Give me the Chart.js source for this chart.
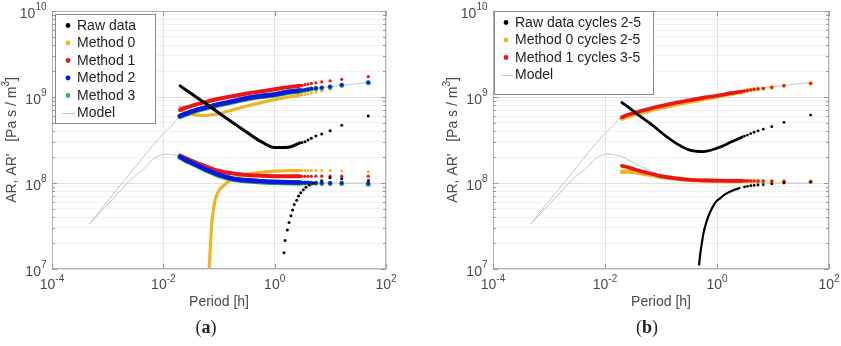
<!DOCTYPE html>
<html><head><meta charset="utf-8">
<script src="https://cdn.jsdelivr.net/npm/chart.js@4.4.1/dist/chart.umd.min.js"></script>
<style>
html,body{margin:0;padding:0;background:#fff;width:841px;height:346px;overflow:hidden}
#wa{position:absolute;left:0;top:0;width:420px;height:346px}
#wb{position:absolute;left:420px;top:0;width:421px;height:346px}
.cap{position:absolute;top:317px;font-family:"Liberation Serif","Times New Roman",serif;font-size:18px;line-height:20px;color:#222;width:60px;text-align:center}
</style></head><body>
<div id="wa"><canvas id="ca" width="420" height="346"></canvas></div>
<div id="wb"><canvas id="cb" width="421" height="346"></canvas></div>
<div class="cap" style="left:176px">(<b>a</b>)</div>
<div class="cap" style="left:617px">(<b>b</b>)</div>
<script>
// ---------- axis ticks ----------
const xTickValues = [1e-4, 1e-2, 1, 1e2];
const xTickExps = ['-4', '-2', '0', '2'];
const yTickValues = [1e7, 1e8, 1e9, 1e10];
const yTickExps = ['7', '8', '9', '10'];
const yMinorValues = [2e7,3e7,4e7,5e7,6e7,7e7,8e7,9e7,2e8,3e8,4e8,5e8,6e8,7e8,8e8,9e8,2e9,3e9,4e9,5e9,6e9,7e9,8e9,9e9];

// ---------- periods [h] ----------
const periodDense = [0.02, 0.0251, 0.0316, 0.0398, 0.0562, 0.0794, 0.1, 0.178, 0.316, 0.562, 1.0, 1.78, 2.82];
const periodSparseA = [3.09, 3.51, 3.98, 4.57, 5.5, 7.0, 9.91, 16.0, 48.0];
const periodSparseB = [3.1, 3.5, 4.0, 4.6, 5.4, 6.7, 9.5, 15.7, 47.0];

// ---------- model ----------
const modelPeriod = [4.8e-4, 1e-3, 2e-3, 2.5e-3, 4e-3, 5e-3, 6.3e-3, 0.01, 0.0141, 0.02, 0.0316, 0.0562, 0.1, 0.316, 1, 3.16, 10, 48];
const modelUpper = [3.39e7, 6.17e7, 1.072e8, 1.288e8, 1.862e8, 2.239e8, 2.692e8, 3.758e8, 4.677e8, 5.888e8, 6.761e8, 7.499e8, 8.222e8, 9.661e8, 1.072e9, 1.202e9, 1.318e9, 1.479e9];
const modelLower = [3.39e7, 5.62e7, 9.12e7, 1.072e8, 1.380e8, 1.567e8, 1.862e8, 2.163e8, 2.138e8, 2.018e8, 1.738e8, 1.445e8, 1.245e8, 1.072e8, 1.028e8, 1.009e8, 1.0e8, 1.0e8];

// ---------- panel (a) ----------
const aRawUpDense = [1.349e9, 1.216e9, 1.096e9, 9.89e8, 8.51e8, 7.24e8, 6.53e8, 5.01e8, 3.89e8, 3.05e8, 2.58e8, 2.60e8, 2.92e8];
const aRawUpSparse = [2.95e8, 3.02e8, 3.16e8, 3.31e8, 3.51e8, 3.72e8, 4.06e8, 4.69e8, 6.01e8];
const aRawLowPeriod = [1.47, 1.54, 1.69, 1.81, 1.96, 2.10, 2.25, 2.49, 2.69, 2.94, 3.27, 3.65, 4.19, 4.94, 7.0, 9.86, 16.0, 48.3];
const aRawLow = [1.55e7, 2.14e7, 2.84e7, 3.47e7, 4.17e7, 4.85e7, 5.62e7, 6.31e7, 7.06e7, 7.71e7, 8.32e7, 8.91e7, 9.48e7, 9.91e7, 1.06e8, 1.15e8, 1.12e8, 1.07e8];

const aM0UpDense = [7.59e8, 6.53e8, 6.31e8, 6.17e8, 6.12e8, 6.24e8, 6.38e8, 7.08e8, 7.85e8, 8.61e8, 9.33e8, 1.0e9, 1.047e9];
const aM0UpSparse = [1.059e9, 1.072e9, 1.091e9, 1.109e9, 1.135e9, 1.175e9, 1.230e9, 1.334e9, 1.462e9];
const aM0LowPeriod = [0.0653, 0.0692, 0.0741, 0.0794, 0.0851, 0.0955, 0.1047, 0.126, 0.158, 0.2, 0.316, 0.562, 1.0, 1.78, 2.82];
const aM0Low = [7.94e6, 1.585e7, 3.39e7, 4.79e7, 6.31e7, 7.76e7, 8.51e7, 9.55e7, 1.072e8, 1.148e8, 1.259e8, 1.334e8, 1.374e8, 1.39e8, 1.396e8];
const aM0LowSparse = [1.396e8, 1.396e8, 1.398e8, 1.398e8, 1.4e8, 1.4e8, 1.4e8, 1.38e8, 1.35e8];

const aM1UpDense = [7.08e8, 7.50e8, 7.85e8, 8.22e8, 8.71e8, 9.23e8, 9.55e8, 1.023e9, 1.096e9, 1.161e9, 1.230e9, 1.303e9, 1.349e9];
const aM1UpSparse = [1.365e9, 1.390e9, 1.413e9, 1.439e9, 1.462e9, 1.496e9, 1.542e9, 1.607e9, 1.722e9];
const aM1LowDense = [2.09e8, 1.95e8, 1.82e8, 1.72e8, 1.57e8, 1.445e8, 1.38e8, 1.29e8, 1.239e8, 1.216e8, 1.202e8, 1.197e8, 1.197e8];
const aM1LowSparse = [1.197e8, 1.197e8, 1.197e8, 1.197e8, 1.2e8, 1.2e8, 1.2e8, 1.2e8, 1.2e8];

const aM2UpDense = [6.03e8, 6.38e8, 6.76e8, 7.08e8, 7.50e8, 7.94e8, 8.22e8, 8.91e8, 9.66e8, 1.023e9, 1.072e9, 1.148e9, 1.189e9];
const aM2UpSparse = [1.197e9, 1.211e9, 1.230e9, 1.250e9, 1.268e9, 1.288e9, 1.318e9, 1.380e9, 1.479e9];
const aM2LowDense = [2.02e8, 1.86e8, 1.74e8, 1.62e8, 1.45e8, 1.32e8, 1.245e8, 1.122e8, 1.072e8, 1.047e8, 1.028e8, 1.019e8, 1.012e8];
const aM2LowSparse = [1.009e8, 1.007e8, 1.007e8, 1.005e8, 1.005e8, 1.0e8, 1.0e8, 1.0e8, 0.989e8];

const aM3UpDense = [5.95e8, 6.30e8, 6.68e8, 7.00e8, 7.42e8, 7.85e8, 8.12e8, 8.80e8, 9.55e8, 1.012e9, 1.060e9, 1.136e9, 1.177e9];
const aM3UpSparse = [1.185e9, 1.199e9, 1.218e9, 1.238e9, 1.255e9, 1.275e9, 1.305e9, 1.366e9, 1.464e9];
const aM3LowDense = [2.00e8, 1.84e8, 1.72e8, 1.60e8, 1.435e8, 1.305e8, 1.23e8, 1.11e8, 1.062e8, 1.037e8, 1.018e8, 1.01e8, 1.003e8];
const aM3LowSparse = [0.999e8, 0.997e8, 0.997e8, 0.995e8, 0.995e8, 0.99e8, 0.99e8, 0.99e8, 0.97e8];

// ---------- panel (b) ----------
const bRawUpDense = [8.61e8, 7.76e8, 6.92e8, 6.17e8, 5.25e8, 4.42e8, 3.89e8, 2.95e8, 2.43e8, 2.32e8, 2.54e8, 2.99e8, 3.43e8];
const bRawUpSparse = [3.51e8, 3.61e8, 3.76e8, 3.89e8, 4.03e8, 4.22e8, 4.52e8, 5.07e8, 6.17e8];
const bRawLowPeriod = [0.479, 0.501, 0.533, 0.575, 0.617, 0.708, 0.804, 0.955, 1.132, 1.413, 1.95, 2.512];
const bRawLow = [1.122e7, 1.479e7, 1.950e7, 2.630e7, 3.162e7, 4.169e7, 5.012e7, 6.026e7, 6.637e7, 7.413e7, 8.222e7, 8.710e7];
const bRawLowSparse = [9.02e7, 9.16e7, 9.29e7, 9.40e7, 9.48e7, 9.55e7, 9.77e7, 1.0e8, 1.023e8];

const bM0UpDense = [5.62e8, 5.92e8, 6.19e8, 6.49e8, 6.87e8, 7.28e8, 7.53e8, 8.17e8, 8.81e8, 9.48e8, 1.012e9, 1.089e9, 1.148e9];
const bM0UpSparse = [1.169e9, 1.188e9, 1.205e9, 1.224e9, 1.239e9, 1.253e9, 1.291e9, 1.348e9, 1.438e9];
const bM0LowDense = [1.349e8, 1.365e8, 1.349e8, 1.318e8, 1.259e8, 1.216e8, 1.180e8, 1.127e8, 1.089e8, 1.072e8, 1.062e8, 1.057e8, 1.057e8];
const bM0LowSparse = [1.055e8, 1.055e8, 1.053e8, 1.053e8, 1.05e8, 1.05e8, 1.048e8, 1.045e8, 1.04e8];

const bM1UpDense = [5.82e8, 6.17e8, 6.46e8, 6.76e8, 7.16e8, 7.59e8, 7.85e8, 8.51e8, 9.12e8, 9.77e8, 1.035e9, 1.109e9, 1.161e9];
const bM1UpSparse = [1.175e9, 1.194e9, 1.211e9, 1.230e9, 1.245e9, 1.259e9, 1.297e9, 1.355e9, 1.445e9];
const bM1LowDense = [1.585e8, 1.531e8, 1.462e8, 1.396e8, 1.318e8, 1.245e8, 1.202e8, 1.135e8, 1.091e8, 1.072e8, 1.064e8, 1.059e8, 1.059e8];
const bM1LowSparse = [1.057e8, 1.057e8, 1.055e8, 1.055e8, 1.053e8, 1.053e8, 1.05e8, 1.045e8, 1.04e8];

// ---------- legends ----------
const legendLabelsA = ['Raw data', 'Method 0', 'Method 1', 'Method 2', 'Method 3', 'Model'];
const legendLabelsB = ['Raw data cycles 2-5', 'Method 0 cycles 2-5', 'Method 1 cycles 3-5', 'Model'];

// ---------- styling ----------
const COL = {raw:'#000000', m0:'#EDB523', m1:'#E8161B', m2:'#0A17E0', m3:'#2DB84B', model:'#c4c4c4'};
const FONT = "'Liberation Sans', Arial, Helvetica, sans-serif";

function P(xs, ys){ return xs.map((x,i)=>({x:x, y:ys[i]})); }
function lineDs(xs, ys, color, w, order, tension){
  const d = {data:P(xs,ys), showLine:true, borderColor:color, backgroundColor:color, borderWidth:w,
    pointRadius:0, borderCapStyle:'round', borderJoinStyle:'round', order:order, clip:0};
  if (tension !== undefined) { d.tension = tension; } else { d.cubicInterpolationMode = 'monotone'; }
  return d;
}
function dotDs(xs, ys, color, r, order){
  return {data:P(xs,ys), showLine:false, pointRadius:r, pointBackgroundColor:color, pointBorderWidth:0,
    backgroundColor:color, borderColor:color, order:order, clip:0};
}

function supText(ctx, base, exp, x, y, align, bf, ef, dyB, dyE){
  ctx.font = bf; const wb = ctx.measureText(base).width;
  ctx.font = ef; const we = ctx.measureText(exp).width;
  let x0 = align==='center' ? x-(wb+we)/2 : (align==='right' ? x-(wb+we) : x);
  ctx.textAlign='left'; ctx.textBaseline='middle';
  ctx.font = bf; ctx.fillText(base, x0, y+dyB);
  ctx.font = ef; ctx.fillText(exp, x0+wb, y+dyE);
}

const decoPlugin = {
  id:'deco',
  afterDraw(chart){
    const cfg = chart.options.plugins.deco;
    const ctx = chart.ctx, ca = chart.chartArea, xs = chart.scales.x, ys = chart.scales.y;
    ctx.save();
    ctx.strokeStyle = '#b3b3b3'; ctx.lineWidth = 1;
    ctx.strokeRect(ca.left+0.5, ca.top+0.5, ca.right-ca.left-1, ca.bottom-ca.top-1);
    ctx.strokeStyle = '#9a9a9a';
    ctx.beginPath();
    yTickValues.concat(yMinorValues).forEach(v=>{
      const py = Math.round(ys.getPixelForValue(v))+0.5;
      const len = yTickValues.includes(v) ? 5 : 3;
      ctx.moveTo(ca.left, py); ctx.lineTo(ca.left+len, py);
      ctx.moveTo(ca.right, py); ctx.lineTo(ca.right-len, py);
    });
    xTickValues.forEach(v=>{
      const px = Math.round(xs.getPixelForValue(v))+0.5;
      ctx.moveTo(px, ca.bottom); ctx.lineTo(px, ca.bottom-5);
      ctx.moveTo(px, ca.top); ctx.lineTo(px, ca.top+5);
    });
    ctx.stroke();
    ctx.fillStyle = '#4a4a4a';
    const bf = '14px '+FONT, ef = '10px '+FONT;
    xTickValues.forEach((v,i)=>{
      supText(ctx, '10', xTickExps[i], xs.getPixelForValue(v), ca.bottom, 'center', bf, ef, 16, 10);
    });
    yTickValues.forEach((v,i)=>{
      supText(ctx, '10', yTickExps[i], ca.left-5.5, ys.getPixelForValue(v), 'right', bf, ef, 3, -3.5);
    });
    ctx.font = '14px '+FONT; ctx.textAlign='center'; ctx.textBaseline='middle';
    ctx.fillText('Period [h]', (ca.left+ca.right)/2, 302);
    ctx.save();
    ctx.translate(cfg.yTitleX, (ca.top+ca.bottom)/2);
    ctx.rotate(-Math.PI/2);
    const t1 = "AR, AR'   [Pa s / m", t2 = '3', t3 = ']';
    ctx.font = '14px '+FONT; const w1 = ctx.measureText(t1).width, w3 = ctx.measureText(t3).width;
    ctx.font = '10px '+FONT; const w2 = ctx.measureText(t2).width;
    let sx = -(w1+w2+w3)/2;
    ctx.textAlign='left';
    ctx.font = '14px '+FONT; ctx.fillText(t1, sx, 0);
    ctx.font = '10px '+FONT; ctx.fillText(t2, sx+w1, -6);
    ctx.font = '14px '+FONT; ctx.fillText(t3, sx+w1+w2, 0);
    ctx.restore();
    const lg = cfg.legend;
    ctx.fillStyle = '#ffffff';
    ctx.fillRect(lg.x, lg.y, lg.w, lg.h);
    ctx.strokeStyle = '#8a8a8a'; ctx.lineWidth = 1;
    ctx.strokeRect(lg.x+0.5, lg.y+0.5, lg.w-1, lg.h-1);
    lg.labels.forEach((lab,i)=>{
      const y = lg.rows[i];
      const col = lg.colors[i];
      if (lg.kinds[i]==='line'){
        ctx.strokeStyle = col; ctx.lineWidth = 1;
        ctx.beginPath(); ctx.moveTo(lg.lineX0, Math.round(y)+0.5); ctx.lineTo(lg.lineX1, Math.round(y)+0.5); ctx.stroke();
      } else {
        ctx.fillStyle = col;
        ctx.beginPath(); ctx.arc(lg.markerX, y, 2.4, 0, Math.PI*2); ctx.fill();
      }
      ctx.fillStyle = '#1e1e1e'; ctx.font = '14px '+FONT; ctx.textAlign='left'; ctx.textBaseline='middle';
      ctx.fillText(lab, lg.textX, y+0.5);
    });
    ctx.restore();
  }
};

function makeChart(id, datasets, cfg){
  return new Chart(document.getElementById(id), {
    type:'scatter',
    data:{datasets:datasets},
    options:{
      responsive:false, animation:false, events:[],
      layout:{padding:{left:0, right:cfg.padRight, top:11, bottom:0}},
      plugins:{legend:{display:false}, tooltip:{enabled:false}, deco:cfg},
      scales:{
        x:{type:'logarithmic', min:1e-4, max:1e2,
          afterBuildTicks:s=>{ s.ticks = xTickValues.map(v=>({value:v})); },
          afterFit:s=>{ s.height = 77; },
          ticks:{display:false}, border:{display:false},
          grid:{color:'rgba(0,0,0,0.10)', lineWidth:1, drawTicks:false}},
        y:{type:'logarithmic', min:1e7, max:1e10,
          afterBuildTicks:s=>{ s.ticks = yTickValues.concat(yMinorValues).sort((a,b)=>a-b).map(v=>({value:v})); },
          afterFit:s=>{ s.width = cfg.yWidth; },
          ticks:{display:false}, border:{display:false},
          grid:{color:c=> (c.tick && yTickValues.includes(c.tick.value)) ? 'rgba(0,0,0,0.12)' : 'rgba(0,0,0,0.055)', lineWidth:1, drawTicks:false}}
      }
    },
    plugins:[decoPlugin]
  });
}

const dsA = [
  lineDs(modelPeriod, modelUpper, COL.model, 1, 20, 0.35),
  lineDs(modelPeriod, modelLower, COL.model, 1, 20, 0.35),
  lineDs(periodDense, aM0UpDense, COL.m0, 3.2, 10),
  dotDs(periodSparseA, aM0UpSparse, COL.m0, 1.5, 10),
  lineDs(aM0LowPeriod, aM0Low, COL.m0, 3.2, 10),
  dotDs(periodSparseA, aM0LowSparse, COL.m0, 1.5, 10),
  lineDs(periodDense, aM1UpDense, COL.m1, 4, 8),
  dotDs(periodSparseA, aM1UpSparse, COL.m1, 1.6, 8),
  lineDs(periodDense, aM1LowDense, COL.m1, 4, 8),
  dotDs(periodSparseA, aM1LowSparse, COL.m1, 1.6, 8),
  lineDs(periodDense, aM3UpDense, COL.m3, 5.5, 7),
  dotDs(periodSparseA, aM3UpSparse, COL.m3, 2.5, 7),
  lineDs(periodDense, aM3LowDense, COL.m3, 5.5, 7),
  dotDs(periodSparseA, aM3LowSparse, COL.m3, 2.5, 7),
  lineDs(periodDense, aM2UpDense, COL.m2, 4.6, 6),
  dotDs(periodSparseA, aM2UpSparse, COL.m2, 1.9, 6),
  lineDs(periodDense, aM2LowDense, COL.m2, 4.6, 6),
  dotDs(periodSparseA, aM2LowSparse, COL.m2, 1.9, 6),
  lineDs(periodDense, aRawUpDense, COL.raw, 3, 4),
  dotDs(periodSparseA, aRawUpSparse, COL.raw, 1.5, 4),
  dotDs(aRawLowPeriod, aRawLow, COL.raw, 1.5, 4)
];

const dsB = [
  lineDs(modelPeriod, modelUpper, COL.model, 1, 20, 0.35),
  lineDs(modelPeriod, modelLower, COL.model, 1, 20, 0.35),
  lineDs(periodDense, bM0UpDense, COL.m0, 4.5, 10),
  dotDs(periodSparseB, bM0UpSparse, COL.m0, 2.2, 10),
  lineDs(periodDense, bM0LowDense, COL.m0, 4.5, 10),
  dotDs(periodSparseB, bM0LowSparse, COL.m0, 2.2, 10),
  lineDs(periodDense, bM1UpDense, COL.m1, 3.6, 8),
  dotDs(periodSparseB, bM1UpSparse, COL.m1, 1.6, 8),
  lineDs(periodDense, bM1LowDense, COL.m1, 3.6, 8),
  dotDs(periodSparseB, bM1LowSparse, COL.m1, 1.6, 8),
  lineDs(periodDense, bRawUpDense, COL.raw, 2.8, 4),
  dotDs(periodSparseB, bRawUpSparse, COL.raw, 1.4, 4),
  lineDs(bRawLowPeriod, bRawLow, COL.raw, 2.2, 4),
  dotDs(periodSparseB, bRawLowSparse, COL.raw, 1.4, 4)
];

makeChart('ca', dsA, {
  yWidth:52, padRight:34, yTitleX:12,
  legend:{x:55, y:14, w:101, h:110, markerX:68, textX:77, lineX0:62, lineX1:75,
    rows:[25.5, 43, 60.5, 78, 95.5, 113],
    labels:legendLabelsA,
    colors:[COL.raw, COL.m0, COL.m1, COL.m2, COL.m3, COL.model],
    kinds:['dot','dot','dot','dot','dot','line']}
});
makeChart('cb', dsB, {
  yWidth:73, padRight:12, yTitleX:33,
  legend:{x:74, y:11, w:160, h:84, markerX:86, textX:95, lineX0:82, lineX1:93,
    rows:[22.5, 40, 57.5, 75],
    labels:legendLabelsB,
    colors:[COL.raw, COL.m0, COL.m1, COL.model],
    kinds:['dot','dot','dot','line']}
});
</script>
</body></html>
